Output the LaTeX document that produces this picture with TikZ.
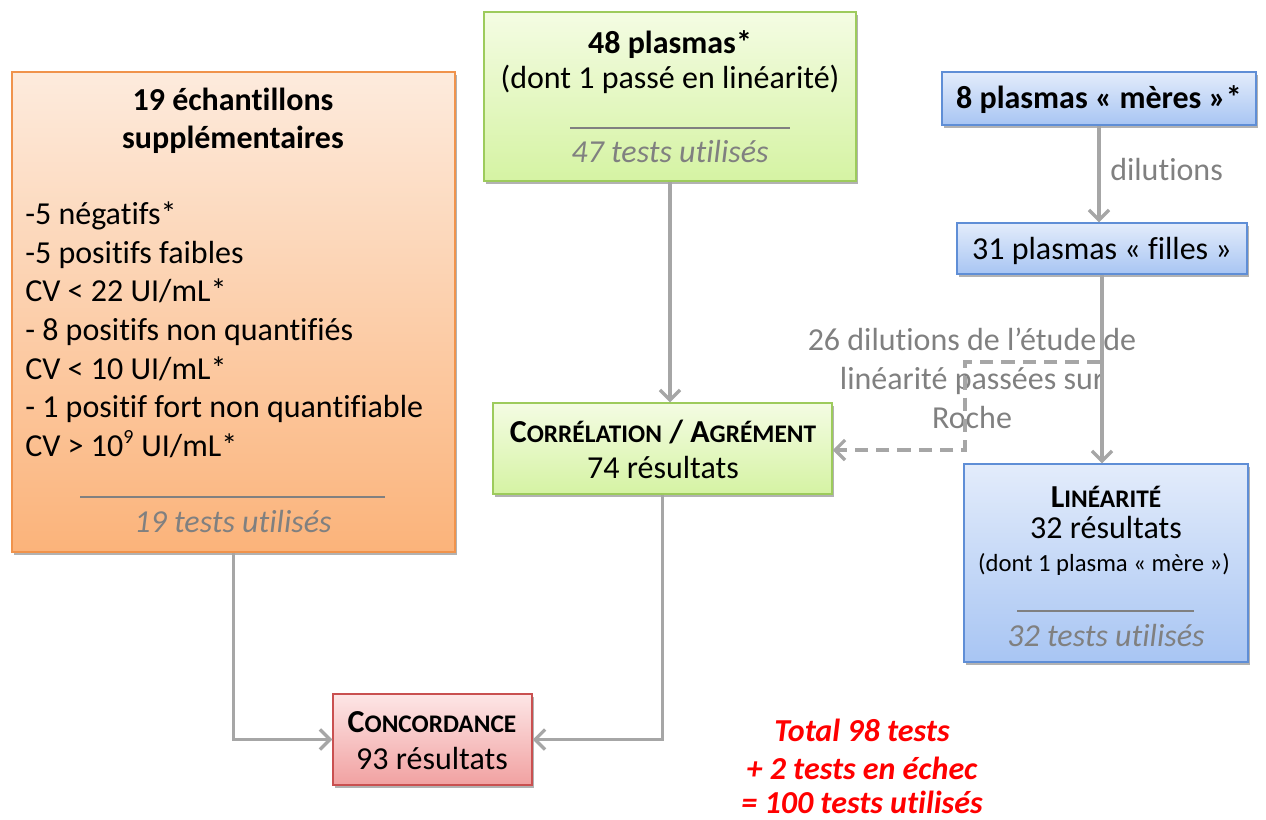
\documentclass[tikz,border=0pt]{standalone}
\usepackage{fontspec}
\setmainfont{Carlito}[Ligatures=NoCommon]
\usetikzlibrary{arrows.meta,shadows,fit}
\definecolor{gtop}{HTML}{F4FCE3}
\definecolor{gbot}{HTML}{D5F3A3}
\definecolor{gbrd}{HTML}{9DCB5C}
\definecolor{otop}{HTML}{FDEBDD}
\definecolor{obot}{HTML}{FBB37A}
\definecolor{obrd}{HTML}{F0934C}
\definecolor{btop}{HTML}{E3ECFB}
\definecolor{bbot}{HTML}{A8C5F3}
\definecolor{bbrd}{HTML}{5F8ED6}
\definecolor{ptop}{HTML}{FDE6E6}
\definecolor{pbot}{HTML}{F1A1A1}
\definecolor{pbrd}{HTML}{C95050}
\definecolor{conn}{HTML}{A6A6A6}
\definecolor{txtgray}{HTML}{808080}
\definecolor{redtxt}{HTML}{FF0000}
\newcommand\fsc[2]{#1{\fontsize{19}{19}\selectfont #2}}
\begin{document}
\begin{tikzpicture}[x=0.75pt,y=-0.75pt,
  font=\fontsize{24}{29}\selectfont,
  boxbase/.style={draw, line width=1.1pt, inner sep=0pt, shading=axis,
    drop shadow={shadow xshift=1.5pt, shadow yshift=-2pt, opacity=0.3, fill=black}},
  greenbox/.style={boxbase, top color=gtop, bottom color=gbot, draw=gbrd},
  orangebox/.style={boxbase, top color=otop, bottom color=obot, draw=obrd},
  bluebox/.style={boxbase, top color=btop, bottom color=bbot, draw=bbrd},
  pinkbox/.style={boxbase, top color=ptop, bottom color=pbot, draw=pbrd},
  txt/.style={inner sep=0pt, anchor=base},
  ltxt/.style={inner sep=0pt, anchor=base west},
  graytxt/.style={txt, text=txtgray},
  usedtxt/.style={txt, text=txtgray, font=\fontsize{24}{29}\selectfont\itshape},
  sep/.style={draw=txtgray, line width=1.3pt},
  arr/.style={draw=conn, line width=2.7pt, -{Straight Barb[length=7.5pt,width=15pt,line width=2.5pt]}},
  dasharr/.style={arr, line width=3pt, dash pattern=on 10pt off 6pt},
  redline/.style={txt, text=redtxt, font=\fontsize{24}{29}\selectfont\bfseries\itshape}
]
\useasboundingbox (0,0) rectangle (1266,819);

% boxes
\node[orangebox, fit={(12,72) (455,552)}] (ech) {};
\node[greenbox, fit={(484,12) (856,181)}] (p48) {};
\node[bluebox, fit={(942,72) (1256,125)}] (meres) {};
\node[bluebox, fit={(957,223) (1247,274)}] (filles) {};
\node[greenbox, fit={(493,403) (832,494)}] (corr) {};
\node[bluebox, fit={(964,464) (1248,662)}] (lin) {};
\node[pinkbox, fit={(333,694) (532,785)}] (conc) {};

% top green box text
\node[txt] (p48a) at (670,53) {\bfseries 48 plasmas*};
\node[txt] (p48b) at (670,88) {(dont 1 passé en linéarité)};
\coordinate (p48l) at (570,128);
\coordinate (p48r) at (790,128);
\draw[sep] (p48l) -- (p48r);
\node[usedtxt] (p48c) at (670,162) {47 tests utilisés};

% left orange box text
\node[txt] (echa) at (233,110) {\bfseries 19 échantillons};
\node[txt] (echb) at (233,148) {\bfseries supplémentaires};
\node[ltxt] (e1) at (25,224) {-5 négatifs*};
\node[ltxt] (e2) at (25,263) {-5 positifs faibles};
\node[ltxt] (e3) at (25,301) {CV < 22 UI/mL*};
\node[ltxt] (e4) at (25,340) {- 8 positifs non quantifiés};
\node[ltxt] (e5) at (25,379) {CV < 10 UI/mL*};
\node[ltxt] (e6) at (25,417) {- 1 positif fort non quantifiable};
\node[ltxt] (e7) at (25,456) {CV > 10\textsuperscript{\fontsize{15}{15}\selectfont 9} UI/mL*};
\coordinate (echl) at (80,497);
\coordinate (echr) at (385,497);
\draw[sep] (echl) -- (echr);
\node[usedtxt] (echc) at (233,532) {19 tests utilisés};

% right side
\node[txt] (meresa) at (1099,108) {\bfseries 8 plasmas « mères »*};
\node[graytxt, anchor=base west] (dil) at (1110,180) {dilutions};
\node[txt] (fillesa) at (1102,259) {31 plasmas « filles »};
\node[txt] (lina) at (1106,507) {\bfseries\fsc{L}{INÉARITÉ}};
\node[txt] (linb) at (1106,538) {32 résultats};
\node[txt, font=\fontsize{18.5}{22}\selectfont] (linc) at (1104,571) {(dont 1 plasma « mère »)};
\coordinate (linl) at (1017,611);
\coordinate (linr) at (1194,611);
\draw[sep] (linl) -- (linr);
\node[usedtxt] (lind) at (1106,646) {32 tests utilisés};

% correlation
\node[txt] (corra) at (663,442) {\bfseries\fsc{C}{ORRÉLATION} / \fsc{A}{GRÉMENT}};
\node[txt] (corrb) at (663,478) {74 résultats};

% concordance
\node[txt] (conca) at (432,732) {\bfseries\fsc{C}{ONCORDANCE}};
\node[txt] (concb) at (432,769) {93 résultats};

% dashed label
\node[graytxt] (dl1) at (972,350) {26 dilutions de l’étude de};
\node[graytxt] (dl2) at (972,389) {linéarité passées sur};
\node[graytxt] (dl3) at (972,428) {Roche};

% red totals
\node[redline] (r1) at (862,741) {Total 98 tests};
\node[redline] (r2) at (862,779) {+ 2 tests en échec};
\node[redline] (r3) at (862,813) {= 100 tests utilisés};

% connectors
\draw[arr] (p48.south) -- (p48.south |- corr.north);
\draw[arr] (meres.south) -- (meres.south |- filles.north);
\draw[arr] (filles.south) -- (filles.south |- lin.north);
\coordinate (dA) at (1100,362);
\coordinate (dB) at (965,450);
\draw[dasharr] (dA) -| (dB) -- (dB -| corr.east);
\draw[arr] (ech.south) |- (conc.west);
\draw[arr] (corr.south) |- (conc.east);
\end{tikzpicture}
\end{document}
